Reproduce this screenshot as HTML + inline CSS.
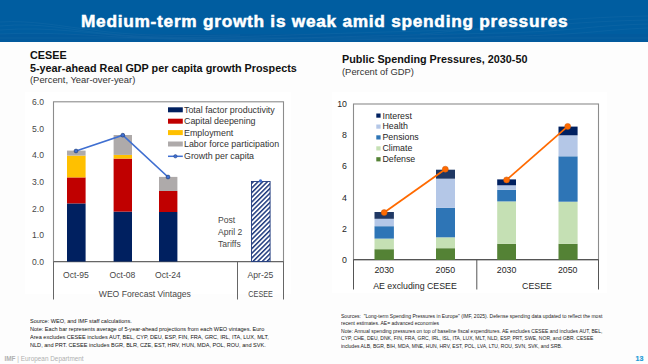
<!DOCTYPE html>
<html><head><meta charset="utf-8">
<style>
html,body{margin:0;padding:0;}
body{width:648px;height:364px;overflow:hidden;background:#fdfdfd;position:relative;font-family:"Liberation Sans",sans-serif;color:#000;}
.abs{position:absolute;white-space:nowrap;}
#hdr{position:absolute;left:0;top:0;width:648px;height:42px;background:#005da0;}
#title{left:81px;top:11.4px;color:#fff;font-weight:bold;font-size:17.3px;letter-spacing:0.72px;-webkit-text-stroke:0.5px #fff;}
.t1{font-weight:bold;font-size:10.8px;color:#111;}
.t2{font-size:9.4px;color:#333;}
svg{position:absolute;left:0;top:0;}
.note{font-size:5.6px;color:#222;line-height:8.3px;}
</style></head><body>
<div id="hdr"><svg width="648" height="42" viewBox="0 0 648 42" style="position:absolute;left:0;top:0">
<rect x="0" y="34" width="648" height="8" fill="#0a4f8e" opacity="0.18"/>
<g fill="none" stroke="#ffffff" stroke-width="0.6" opacity="0.06">
<path d="M0 26 C40 22 70 30 110 34 S200 38 260 36 S380 32 460 30 S560 22 648 20"/>
<path d="M0 30 C50 26 90 34 140 37 S240 40 300 38 S420 35 500 33 S580 26 648 24"/>
<path d="M0 34 C60 31 110 38 170 39 S280 41 340 40 S450 38 520 36 S600 30 648 28"/>
<path d="M0 22 C30 20 60 26 100 31 S180 36 240 35"/>
<path d="M420 34 C480 30 540 18 648 16"/>
<path d="M0 38 L648 38"/>
</g>
</svg></div>
<div style="position:absolute;left:25px;top:92px;width:266px;height:202px;background:#fff"></div>
<div style="position:absolute;left:331.5px;top:92px;width:275.5px;height:201px;background:#fff"></div>
<div class="abs" id="title">Medium-term growth is weak amid spending pressures</div>

<div class="abs t1" style="left:30px;top:49px;">CESEE</div>
<div class="abs t1" style="left:30px;top:61.5px;">5-year-ahead Real GDP per capita growth Prospects</div>
<div class="abs t2" style="left:30px;top:74px;">(Percent, Year-over-year)</div>

<div class="abs t1" style="left:342px;top:53.4px;">Public Spending Pressures, 2030-50</div>
<div class="abs t2" style="left:342px;top:66px;">(Percent of GDP)</div>

<svg width="648" height="364" viewBox="0 0 648 364">
<!-- LEFT CHART -->
<g font-family="Liberation Sans" font-size="8.6" fill="#474747">
<rect x="53.5" y="101.8" width="230" height="160" fill="none" stroke="#8c8c8c" stroke-width="1.1"/>
<line x1="53.5" y1="261.5" x2="53.5" y2="299.5" stroke="#666"/>
<line x1="237.5" y1="261.5" x2="237.5" y2="299.5" stroke="#666"/>
<line x1="283.5" y1="261.5" x2="283.5" y2="299.5" stroke="#666"/>
<line x1="53.5" y1="261.5" x2="283.5" y2="261.5" stroke="#666"/>
<text x="44" y="104.5" text-anchor="end">6.0</text>
<text x="44" y="131.5" text-anchor="end">5.0</text>
<text x="44" y="158" text-anchor="end">4.0</text>
<text x="44" y="184.5" text-anchor="end">3.0</text>
<text x="44" y="211.5" text-anchor="end">2.0</text>
<text x="44" y="238" text-anchor="end">1.0</text>
<text x="44" y="264.5" text-anchor="end">0.0</text>
<!-- bars Oct-95 -->
<rect x="67" y="203.4" width="18.6" height="58.2" fill="#002060"/>
<rect x="67" y="177.4" width="18.6" height="26" fill="#c00000"/>
<rect x="67" y="155.6" width="18.6" height="21.8" fill="#ffc000"/>
<rect x="67" y="150.6" width="18.6" height="5" fill="#aeaaaa"/>
<!-- Oct-08 -->
<rect x="113.6" y="211.6" width="18.4" height="50" fill="#002060"/>
<rect x="113.6" y="158.6" width="18.4" height="53" fill="#c00000"/>
<rect x="113.6" y="154.9" width="18.4" height="3.7" fill="#ffc000"/>
<rect x="113.6" y="135" width="18.4" height="19.9" fill="#aeaaaa"/>
<!-- Oct-24 -->
<rect x="159" y="212" width="18.4" height="49.6" fill="#002060"/>
<rect x="159" y="191" width="18.4" height="21" fill="#c00000"/>
<rect x="159" y="176.9" width="18.4" height="14.1" fill="#aeaaaa"/>
<!-- hatched -->
<defs>
<pattern id="hatch" patternUnits="userSpaceOnUse" width="3.3" height="3.3" patternTransform="rotate(45)">
<rect width="3.3" height="3.3" fill="#fff"/>
<rect width="1.5" height="3.3" fill="#203b7e"/>
</pattern>
</defs>
<rect x="251.5" y="181.5" width="18.6" height="80" fill="url(#hatch)" stroke="#203b7e" stroke-width="0.9"/>
<polyline points="76,151 122.8,135.2 168,177" fill="none" stroke="#3f6fd1" stroke-width="1.7"/>
<circle cx="76" cy="151" r="1.9" fill="#3f6fd1" stroke="#24407a" stroke-width="0.7"/>
<circle cx="122.8" cy="135.2" r="1.9" fill="#3f6fd1" stroke="#24407a" stroke-width="0.7"/>
<circle cx="168" cy="177" r="1.9" fill="#3f6fd1" stroke="#24407a" stroke-width="0.7"/>
<circle cx="260.5" cy="181" r="1.7" fill="#3f6fd1"/>
<!-- legend -->
<rect x="168" y="107.3" width="14.8" height="5" fill="#002060"/>
<rect x="168" y="118.7" width="14.8" height="5" fill="#c00000"/>
<rect x="168" y="130.1" width="14.8" height="5" fill="#ffc000"/>
<rect x="168" y="141.5" width="14.8" height="5" fill="#aeaaaa"/>
<line x1="168" y1="156.3" x2="182.8" y2="156.3" stroke="#3f6fd1" stroke-width="1.5"/>
<circle cx="175.4" cy="156.3" r="1.7" fill="#3f6fd1" stroke="#24407a" stroke-width="0.5"/>
<g fill="#333" font-size="8.9">
<text x="184" y="112.8">Total factor productivity</text>
<text x="184" y="124.2">Capital deepening</text>
<text x="184" y="135.6">Employment</text>
<text x="184" y="147">Labor force participation</text>
<text x="184" y="159.3">Growth per capita</text>
</g>
<text x="218" y="223">Post</text>
<text x="218" y="235">April 2</text>
<text x="218" y="247">Tariffs</text>
<g text-anchor="middle">
<text x="76" y="277.8">Oct-95</text>
<text x="122.5" y="277.8">Oct-08</text>
<text x="168" y="277.8">Oct-24</text>
<text x="260.5" y="277.8">Apr-25</text>
<text x="144.8" y="297">WEO Forecast Vintages</text>
<text x="260.6" y="297" textLength="24.5" lengthAdjust="spacingAndGlyphs">CESEE</text>
</g>
</g>

<!-- RIGHT CHART -->
<g font-family="Liberation Sans" font-size="8.8" fill="#262626">
<rect x="353.5" y="104" width="245" height="156" fill="none" stroke="#8c8c8c" stroke-width="1.1"/>
<line x1="353.5" y1="259.5" x2="598.5" y2="259.5" stroke="#555"/>
<line x1="353.5" y1="259.5" x2="353.5" y2="289.5" stroke="#555"/>
<line x1="476.8" y1="259.5" x2="476.8" y2="289.5" stroke="#555"/>
<line x1="598.5" y1="259.5" x2="598.5" y2="289.5" stroke="#555"/>
<g text-anchor="end">
<text x="347" y="107">10</text>
<text x="347" y="138.3">8</text>
<text x="347" y="169.4">6</text>
<text x="347" y="200.6">4</text>
<text x="347" y="231.7">2</text>
<text x="347" y="262.9">0</text>
</g>
<!-- AE 2030 -->
<rect x="374.5" y="249.2" width="19.4" height="10.7" fill="#548235"/>
<rect x="374.5" y="238.6" width="19.4" height="10.6" fill="#c5e0b4"/>
<rect x="374.5" y="226.2" width="19.4" height="12.4" fill="#2e75b6"/>
<rect x="374.5" y="218.8" width="19.4" height="7.4" fill="#b4c7e7"/>
<rect x="374.5" y="212" width="19.4" height="6.8" fill="#203864"/>
<!-- AE 2050 -->
<rect x="436" y="248.2" width="19" height="11.7" fill="#548235"/>
<rect x="436" y="237.3" width="19" height="10.9" fill="#c5e0b4"/>
<rect x="436" y="207.9" width="19" height="29.4" fill="#2e75b6"/>
<rect x="436" y="178.7" width="19" height="29.2" fill="#b4c7e7"/>
<rect x="436" y="169.7" width="19" height="9" fill="#203864"/>
<!-- CESEE 2030 -->
<rect x="497.2" y="243.8" width="18.8" height="16.1" fill="#548235"/>
<rect x="497.2" y="201.4" width="18.8" height="42.4" fill="#c5e0b4"/>
<rect x="497.2" y="189.8" width="18.8" height="11.6" fill="#2e75b6"/>
<rect x="497.2" y="185.3" width="18.8" height="4.5" fill="#b4c7e7"/>
<rect x="497.2" y="179.4" width="18.8" height="5.9" fill="#002060"/>
<!-- CESEE 2050 -->
<rect x="558.5" y="243.8" width="19.1" height="16.1" fill="#548235"/>
<rect x="558.5" y="201.7" width="19.1" height="42.1" fill="#c5e0b4"/>
<rect x="558.5" y="156.3" width="19.1" height="45.4" fill="#2e75b6"/>
<rect x="558.5" y="135.3" width="19.1" height="21" fill="#b4c7e7"/>
<rect x="558.5" y="126.6" width="19.1" height="8.7" fill="#002060"/>
<!-- lines -->
<line x1="384.2" y1="212.6" x2="445.3" y2="169.2" stroke="#ff6a00" stroke-width="1.8"/>
<line x1="506.6" y1="179.9" x2="567.7" y2="126.4" stroke="#ff6a00" stroke-width="1.8"/>
<g fill="#ff6a00" stroke="#c85a10" stroke-width="0.5">
<circle cx="384.2" cy="212.6" r="3"/>
<circle cx="445.3" cy="169.2" r="3"/>
<circle cx="506.6" cy="179.9" r="3"/>
<circle cx="567.7" cy="126.4" r="3"/>
</g>
<!-- legend -->
<rect x="376.3" y="113.5" width="4.3" height="4.2" fill="#002060"/>
<rect x="376.3" y="124.5" width="4.3" height="4.2" fill="#b4c7e7"/>
<rect x="376.3" y="135.3" width="4.3" height="4.2" fill="#2e75b6"/>
<rect x="376.3" y="146.3" width="4.3" height="4.2" fill="#c5e0b4"/>
<rect x="376.3" y="157.2" width="4.3" height="4.2" fill="#548235"/>
<text x="382.5" y="118.5">Interest</text>
<text x="382.5" y="129.4">Health</text>
<text x="382.5" y="140">Pensions</text>
<text x="382.5" y="151.2">Climate</text>
<text x="382.5" y="161.8">Defense</text>
<g text-anchor="middle">
<text x="384.2" y="272.8">2030</text>
<text x="445.3" y="272.8">2050</text>
<text x="506.6" y="272.8">2030</text>
<text x="567.7" y="272.8">2050</text>
<text x="415" y="289">AE excluding CESEE</text>
<text x="537" y="289">CESEE</text>
</g>
</g>
</svg>

<div class="abs note" style="left:30px;top:316.5px;font-size:6.2px;color:#111;transform:scaleX(0.9);transform-origin:0 0;">Source: WEO, and IMF staff calculations.<br>Note: Each bar represents average of 5-year-ahead projections from each WEO vintages. Euro<br>Area excludes CESEE includes AUT, BEL, CYP, DEU, ESP, FIN, FRA, GRC, IRL, ITA, LUX, MLT,<br>NLD, and PRT. CESEE includes BGR, BLR, CZE, EST, HRV, HUN, MDA, POL, ROU, and SVK.</div>

<div class="abs note" style="left:341px;top:313px;line-height:7.4px;transform:scaleX(0.9);transform-origin:0 0;">Sources:&nbsp; "Long-term Spending Pressures in Europe" (IMF, 2025). Defense spending data updated to reflect the most<br>recent estimates. AE= advanced economies<br>Note: Annual spending pressures on top of baseline fiscal expenditures. AE excludes CESEE and includes AUT, BEL,<br>CYP, CHE, DEU, DNK, FIN, FRA, GRC, IRL, ISL, ITA, LUX, MLT, NLD, ESP, PRT, SWE, NOR, and GBR. CESEE<br>includes ALB, BGR, BIH, MDA, MNE, HUN, HRV, EST, POL, LVA, LTU, ROU, SVN, SVK, and SRB.</div>

<div class="abs" style="left:4.5px;top:354.5px;font-size:6.4px;color:#b0b0b0;"><b>IMF</b> | European Department</div>
<div class="abs" style="left:635.5px;top:355px;font-size:7px;color:#1e9bd7;font-weight:bold;-webkit-text-stroke:0.2px #1e9bd7;">13</div>
</body></html>
